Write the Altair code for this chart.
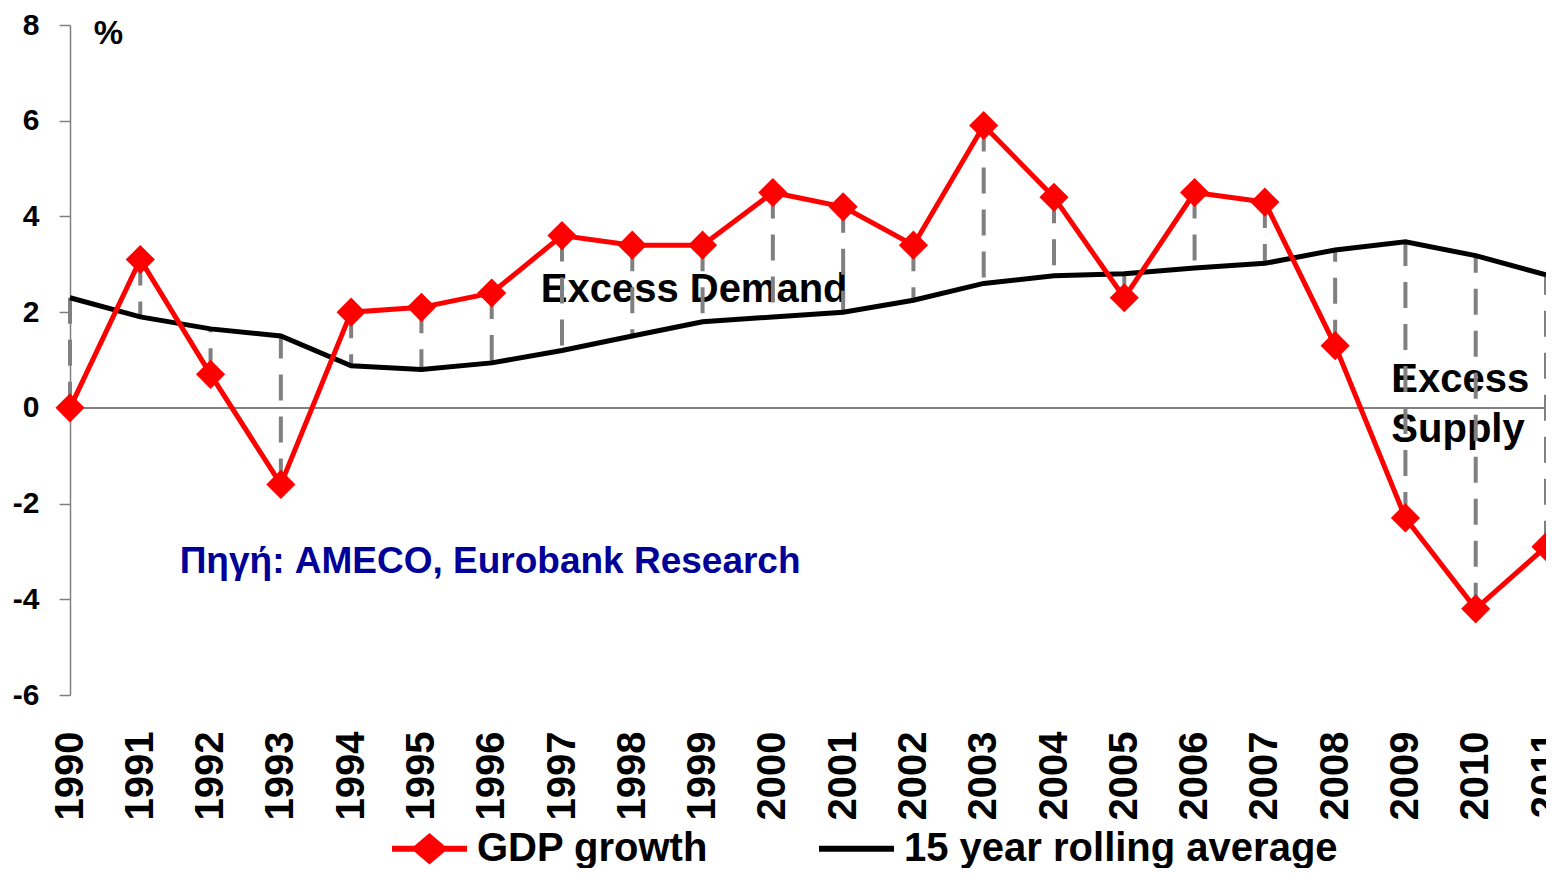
import altair as alt
import pandas as pd

years = list(range(1990, 2012))
gdp_growth = [0.0, 3.1, 0.7, -1.6, 2.0, 2.1, 2.4, 3.6, 3.4, 3.4, 4.5, 4.2,
              3.4, 5.9, 4.4, 2.3, 4.5, 4.3, 1.3, -2.3, -4.2, -2.9]
rolling_avg = [2.3, 1.9, 1.65, 1.5, 0.88, 0.8, 0.94, 1.2, 1.5, 1.8, 1.9, 2.0,
               2.25, 2.6, 2.76, 2.8, 2.92, 3.02, 3.3, 3.47, 3.18, 2.78]
series_names = ["GDP growth", "15 year rolling average"]
series_colors = ["#FF0000", "#000000"]
y_ticks = [-6, -4, -2, 0, 2, 4, 6, 8]

demand_text = ["Excess Demand"]
demand_x = [1998.88]
demand_y = [2.47]
supply_text = ["Excess", "Supply"]
supply_x = [2008.8, 2008.8]
supply_y = [0.58, -0.46]
source_text = ["Πηγή: AMECO, Eurobank Research"]
source_x = [1991.56]
source_y = [-3.22]

FONT = "Liberation Sans, Arial, sans-serif"

wide = pd.DataFrame({"year": years, "gdp": gdp_growth, "avg": rolling_avg})
long = pd.DataFrame({
    "year": years * 2,
    "value": gdp_growth + rolling_avg,
    "series": [series_names[0]] * len(years) + [series_names[1]] * len(years),
})
demand_df = pd.DataFrame({"text": demand_text, "x": demand_x, "y": demand_y})
supply_df = pd.DataFrame({"text": supply_text, "x": supply_x, "y": supply_y})
src_df = pd.DataFrame({"text": source_text, "x": source_x, "y": source_y})

x_scale = alt.Scale(domain=[1990, 2011], nice=False, zero=False)
y_scale = alt.Scale(domain=[-6, 8], nice=False)

x_enc = alt.X("year:Q", scale=x_scale, axis=alt.Axis(
    values=years, format="d", labelAngle=270, grid=False, domain=False, ticks=False,
    labelFontSize=40, labelFont=FONT, labelFontWeight="bold", labelColor="#000000",
    labelPadding=36, title=None, labelOverlap=False, labelFlush=False))

y_axis = alt.Axis(values=y_ticks, grid=False, domainColor="#808080", domainWidth=1.5,
                  tickColor="#808080", tickWidth=1.5, tickSize=11, labelPadding=20,
                  labelExpr="toString(datum.value)",
                  labelFontSize=30, labelFont=FONT, labelFontWeight="bold", labelColor="#000000",
                  title="%", titleAngle=0, titleX=38, titleY=8, titleAlign="center",
                  titleBaseline="middle", titleFontSize=33, titleFont=FONT,
                  titleFontWeight="bold", titleColor="#000000")

base = alt.Chart(wide)

zero_rule = alt.Chart(wide).mark_rule(color="#808080", strokeWidth=1.5).encode(
    y=alt.datum(0, scale=y_scale, axis=y_axis))

demand = alt.Chart(demand_df).mark_text(font=FONT, fontWeight="bold", fontSize=40,
                                        color="#000000", align="center",
                                        baseline="middle").encode(
    x=alt.X("x:Q", scale=x_scale), y=alt.Y("y:Q", scale=y_scale), text="text:N")

supply = alt.Chart(supply_df).mark_text(font=FONT, fontWeight="bold", fontSize=40,
                                        color="#000000", align="left",
                                        baseline="middle").encode(
    x=alt.X("x:Q", scale=x_scale), y=alt.Y("y:Q", scale=y_scale), text="text:N")

source = alt.Chart(src_df).mark_text(font=FONT, fontWeight="bold", fontSize=37,
                                     color="#000099", align="left",
                                     baseline="middle").encode(
    x=alt.X("x:Q", scale=x_scale), y=alt.Y("y:Q", scale=y_scale), text="text:N")

drops = base.mark_rule(color="#808080", strokeWidth=4, strokeDash=[26, 16]).encode(
    x=x_enc, y=alt.Y("gdp:Q", scale=y_scale), y2="avg:Q")

avg_line = base.mark_line(color="#000000", strokeWidth=5).encode(
    x=alt.X("year:Q", scale=x_scale), y=alt.Y("avg:Q", scale=y_scale))

gdp_line = base.mark_line(color="#FF0000", strokeWidth=5).encode(
    x=alt.X("year:Q", scale=x_scale), y=alt.Y("gdp:Q", scale=y_scale))

gdp_points = base.mark_point(shape="diamond", filled=True, color="#FF0000",
                             size=850, opacity=1).encode(
    x=alt.X("year:Q", scale=x_scale), y=alt.Y("gdp:Q", scale=y_scale))

diamond_line = ("M-1,-0.08L-0.4,-0.08L0,-0.42L0.4,-0.08L1,-0.08L1,0.08L0.4,0.08"
                "L0,0.42L-0.4,0.08L-1,0.08Z")
bar_line = "M-1,-0.08L1,-0.08L1,0.08L-1,0.08Z"

# legend-only layer: its rows are filtered out, the explicit scale domain keeps the legend
legend_layer = alt.Chart(long).transform_filter("datum.year < 0").mark_point(
    filled=True, strokeWidth=0, opacity=1).encode(
    x=alt.X("year:Q", scale=x_scale), y=alt.Y("value:Q", scale=y_scale),
    color=alt.Color("series:N", scale=alt.Scale(domain=series_names, range=series_colors),
                    legend=alt.Legend(title=None, orient="none", direction="horizontal",
                                      legendX=322, legendY=786, symbolSize=5625,
                                      symbolOpacity=1, symbolStrokeWidth=0,
                                      labelFontSize=40, labelFont=FONT,
                                      labelFontWeight="bold", labelColor="#000000",
                                      labelOffset=10, columnPadding=110, padding=0,
                                      labelLimit=600)),
    shape=alt.Shape("series:N", scale=alt.Scale(domain=series_names,
                                                range=[diamond_line, bar_line])),
)

chart = alt.layer(zero_rule, demand, supply, source, drops, avg_line, gdp_line,
                  gdp_points, legend_layer).properties(
    width=1476, height=670,
    autosize=alt.AutoSizeParams(type="none"),
    padding={"left": 62, "top": 17, "right": 0, "bottom": 173},
    background="white",
).configure_view(stroke=None)

chart.save("out.html", embed_options={"renderer": "svg", "actions": False})
